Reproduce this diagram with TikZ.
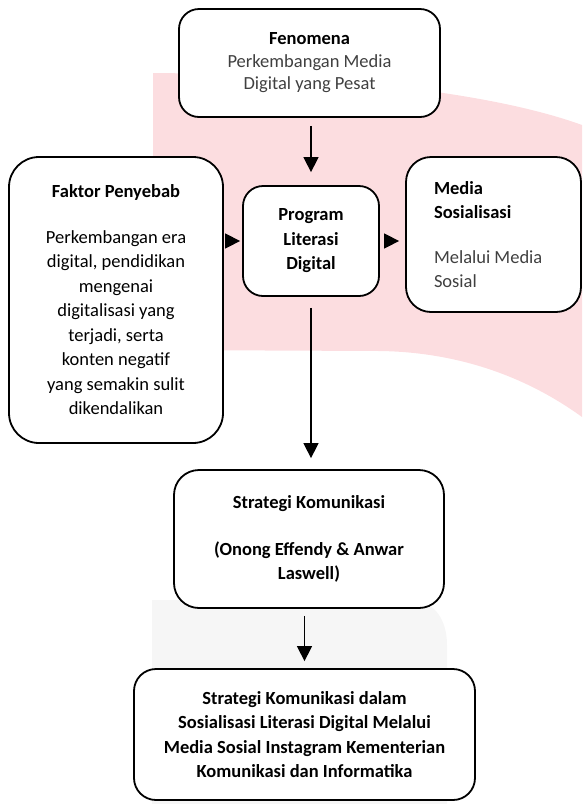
\documentclass[tikz,border=0pt]{standalone}
\usepackage{fontspec}
\setmainfont{Carlito}
\usetikzlibrary{arrows.meta}
\definecolor{MarkPink}{RGB}{252,221,224}
\definecolor{MarkGray}{RGB}{246,246,246}
\definecolor{BodyGray}{RGB}{64,64,64}
\newcommand{\boxfont}{\fontsize{18.5pt}{24.5pt}\selectfont}

\begin{document}
\begin{tikzpicture}[x=1pt,y=-1pt,
  box/.style n args={3}{draw,line width=1.8pt,fill=white,rounded corners=#1,minimum width=#2,minimum height=#3,inner sep=0pt,align=center,font=\boxfont},
  arr/.style={line width=1.5pt,-{Triangle[length=15pt,width=15pt]}}]
\useasboundingbox (0,0) rectangle (582,804);
\fill[MarkPink] (153,73) .. controls (300,74) and (480,88) .. (582,125) -- (582,417)
   .. controls (520,372) and (450,352) .. (380,351) -- (153,350) -- cycle;
\fill[MarkGray] (152,600) -- (415,600) .. controls (435,603) and (447,620) .. (447,645)
   -- (447,804) -- (152,804) -- cycle;
\node[box={20pt}{261pt}{108pt},font=\fontsize{18.5pt}{22.5pt}\selectfont] (fen) at (309.5,63)
   {\textbf{Fenomena}\\ \textcolor{BodyGray}{Perkembangan Media}\\ \textcolor{BodyGray}{Digital yang Pesat}};
\node[box={30pt}{214pt}{286pt}] (fak) at (116,300)
   {\textbf{Faktor Penyebab}\\[21pt] Perkembangan era\\ digital, pendidikan\\ mengenai\\
    digitalisasi yang\\ terjadi, serta\\ konten negatif\\ yang semakin sulit\\ dikendalikan};
\node[box={20pt}{136pt}{110pt},font=\boxfont\bfseries] (prog) at (311,241)
   {Program\\ Literasi\\ Digital};
\node[box={25pt}{175pt}{155pt},align=flush left,text width=119pt,inner xsep=28pt] (med) at (493.5,234.5)
   {\textbf{Media}\\ \textbf{Sosialisasi}\\[20pt] \textcolor{BodyGray}{Melalui Media}\\ \textcolor{BodyGray}{Sosial}};
\node[box={25pt}{270pt}{138pt},font=\boxfont\bfseries] (strat) at (309,539)
   {Strategi Komunikasi\\[22pt] (Onong Effendy \& Anwar\\ Laswell)};
\node[box={22pt}{341pt}{131pt},font=\boxfont\bfseries] (akhir) at (304.5,734.5)
   {Strategi Komunikasi dalam\\ Sosialisasi Literasi Digital Melalui\\
    Media Sosial Instagram Kementerian\\ Komunikasi dan Informatika};
\draw[arr,shorten <=8pt,shorten >=13pt] (prog.north |- fen.south) -- (prog.north);
\draw[arr,shorten <=3pt,shorten >=2pt] (fak.east |- prog.west) -- (prog.west);
\draw[arr,shorten <=5pt,shorten >=6pt] (prog.east) -- (med.west |- prog.east);
\draw[arr,shorten <=11pt,shorten >=11pt] (prog.south) -- (prog.south |- strat.north);
\draw[arr,shorten <=7pt,shorten >=7pt] (akhir.north |- strat.south) -- (akhir.north);
\end{tikzpicture}
\end{document}
